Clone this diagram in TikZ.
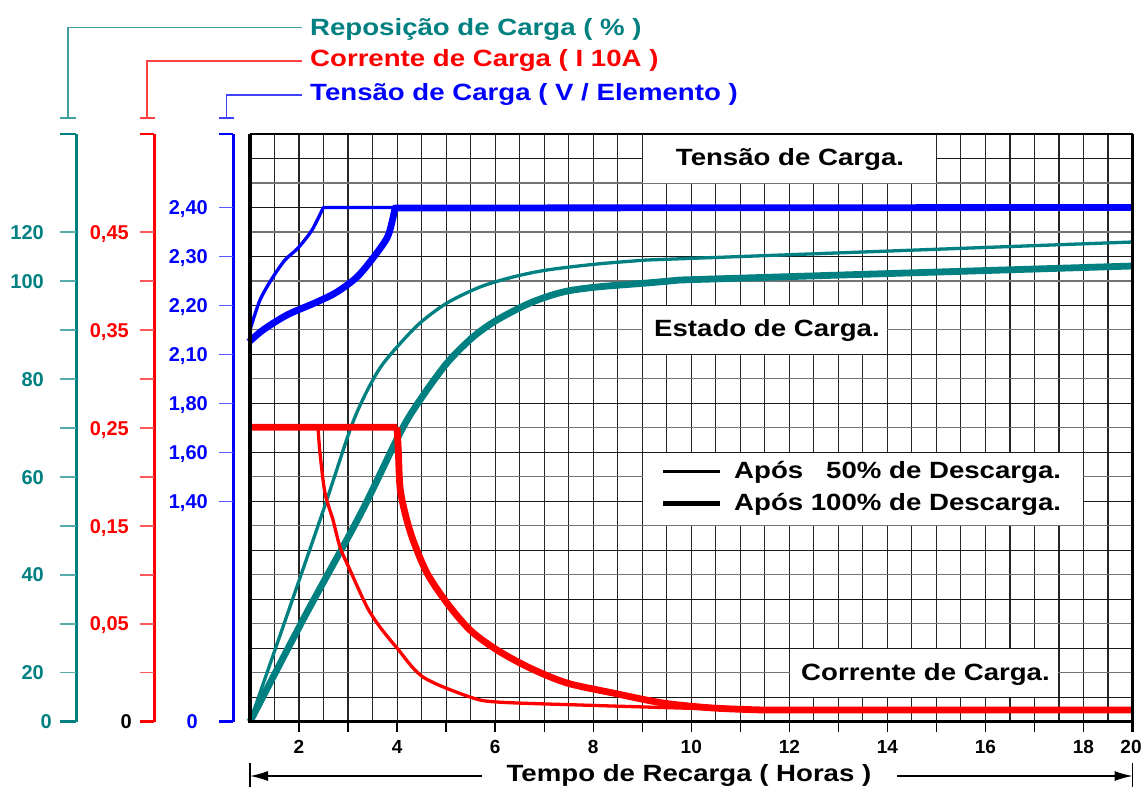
\documentclass[tikz,border=0pt]{standalone}
\usepackage{fontspec}
\setmainfont{Liberation Sans}
\newfontfamily\widefont[FakeStretch=1.175]{Liberation Sans}
\usetikzlibrary{arrows.meta}
\definecolor{tealc}{HTML}{008080}
\definecolor{redc}{HTML}{FF0000}
\definecolor{bluec}{HTML}{0000FF}
\begin{document}
\begin{tikzpicture}[x=1pt,y=-1pt,
  big/.style={font=\widefont\bfseries\fontsize{23.5}{28}\selectfont, inner sep=0pt},
  axl/.style={font=\bfseries\fontsize{20}{24}\selectfont, inner sep=0pt, anchor=base east},
  xl/.style={font=\bfseries\fontsize{19}{23}\selectfont, inner sep=0pt, anchor=base},
  gvert/.style={black!85, line width=1.15pt},
  gdark/.style={black!90, line width=1.15pt},
  glight/.style={black!55, line width=1.15pt},
  wbox/.style={fill=white, draw=none, inner sep=0pt, outer sep=0pt, anchor=north west},
  thinc/.style={line width=3.3pt, line join=round, line cap=round},
  thickc/.style={line width=6.8pt, line join=round},
  conn/.style={line width=1.5pt},
  mtick/.style={line width=1.5pt},
  axisline/.style={line width=3pt},
  arrowline/.style={line width=1.3pt, -{Latex[length=18pt,width=10pt]}},
]
\useasboundingbox (0,0) rectangle (1145,787);

% ---------- grid ----------
\foreach \i in {1,...,35}
  \draw[gvert] ({250+\i*24.514},134) -- ({250+\i*24.514},721.7);
\foreach \j in {1,3,...,23}
  \draw[gdark] (250,{134+\j*24.488}) -- (1132.5,{134+\j*24.488});
\foreach \j in {2,4,...,22}
  \draw[glight] (250,{134+\j*24.488}) -- (1132.5,{134+\j*24.488});

% ---------- white label boxes ----------
\node[wbox, minimum width=293pt, minimum height=48.2pt] (bxT) at (642.8,134.6) {};
\node[wbox, minimum width=244pt, minimum height=47.8pt] (bxE) at (642.8,306.0) {};
\node[wbox, minimum width=439.9pt, minimum height=72.3pt] (bxL) at (642.8,452.9) {};
\node[wbox, minimum width=268.5pt, minimum height=47.8pt] (bxC) at (789.9,648.8) {};

% ---------- curves ----------
% blue (tension)
\draw[bluec, thinc] plot[smooth, tension=0.5] coordinates {(250,330) (260,300) (273,277) (285,260) (298,248) (312,230) (323.3,207.5)} -- (1132.5,207.5);
\draw[bluec, thickc] plot[smooth, tension=0.5] coordinates {(249,342) (263,330) (287,315) (317,302) (337,292) (357,277) (373,258) (387,238) (392,222) (395,208)} -- (1132.5,207.5);
% teal (state of charge)
\draw[tealc, thinc] plot[smooth, tension=0.5] coordinates {(250,721.7) (320,520) (350,430) (365,395) (380,368) (397,347) (420,323) (447,303) (480,287) (513,277) (547,270) (597,264) (647,260)} -- (1132.5,242);
\draw[tealc, thickc] plot[smooth, tension=0.5] coordinates {(250,721.7) (305,616) (360,515) (400,433) (420,400) (447,363) (473,337) (497,320) (530,303) (563,292) (597,287) (647,283) (680,280)} -- (1132.5,266);
% red (current)
\draw[redc, thinc] plot[smooth, tension=0.5] coordinates {(318,427.3) (320,453) (325,493) (333,520) (340,547) (350,570) (367,607) (380,627) (397,648) (423,677) (470,697) (497,702) (580,705) (680,708) (760,710)};
\draw[redc, thickc] (250,427.3) -- (397,427.3) plot[smooth, tension=0.5] coordinates {(397,427.3) (398.3,450) (400,487) (405,513) (413,540) (427,573) (447,603) (470,630) (497,650) (530,668) (567,683) (613,693) (663,703) (713,708) (763,710)} -- (1132.5,710);

% ---------- frame ----------
\draw[black, line width=1.5pt] (250,134) -- (1132.5,134);
\draw[black, line width=3.3pt] (250,134) -- (250,721.7) -- (1132.5,721.7);
\draw[black, line width=3pt] (1132.5,134) -- (1132.5,731.7);
\foreach \k in {1,...,17}
  \draw[black, line width=1.3pt] ({250+\k*49.028},721.7) -- ({250+\k*49.028},731.7);

% ---------- x axis labels ----------
\foreach \k/\t in {1/2,3/4,5/6,7/8,9/10,11/12,13/14,15/16,17/18}
  \node[xl] (xl\k) at ({250+\k*49.028},753.5) {\t};
\node[xl] (xl19) at (1131,753.5) {20};

% ---------- time arrow ----------
\node[big, anchor=base] (tempo) at (689,781.7) {Tempo de Recarga ( Horas )};
\coordinate (aL) at (250,776);
\coordinate (aR) at (1132.5,776);
\coordinate (aLs) at (482,776);
\coordinate (aRs) at (897,776);
\draw[arrowline] (aLs) -- (aL);
\draw[arrowline] (aRs) -- (aR);
\draw[black, line width=1.3pt] (250,763) -- (250,787);
\draw[black, line width=1.3pt] (1132.5,763) -- (1132.5,787);

% ---------- teal axis ----------
\draw[tealc, axisline] (76,134) -- (76,721.7);
\draw[tealc, line width=2pt] (60,134) -- (76,134);
\draw[tealc, axisline] (60,721.7) -- (76,721.7);
\foreach \r in {4,6,...,22}
  \draw[tealc!65, mtick] (60,{134+\r*24.488}) -- (76,{134+\r*24.488});
\foreach \r/\t in {4/120,6/100,10/80,14/60,18/40,22/20}
  \node[axl, tealc] (tl\r) at (44,{134+\r*24.488+7.2}) {\t};
\node[axl, tealc] (tl24) at (52,728.9) {0};

% ---------- red axis ----------
\draw[redc, axisline] (154,134) -- (154,721.7);
\draw[redc, line width=2pt] (140,134) -- (154,134);
\draw[redc, axisline] (140,721.7) -- (154,721.7);
\foreach \r in {4,6,...,22}
  \draw[redc!65, mtick] (140,{134+\r*24.488}) -- (154,{134+\r*24.488});
\foreach \r/\t in {4/{0,45},8/{0,35},12/{0,25},16/{0,15},20/{0,05}}
  \node[axl, redc] (rl\r) at (129,{134+\r*24.488+7.2}) {\t};
\node[axl, black] (rl24) at (132,728.9) {0};

% ---------- blue axis ----------
\draw[bluec, axisline] (233,134) -- (233,721.7);
\draw[bluec, line width=2pt] (219,134) -- (233,134);
\draw[bluec, axisline] (219,721.7) -- (233,721.7);
\foreach \r in {3,5,...,15}
  \draw[bluec!65, mtick] (219,{134+\r*24.488}) -- (233,{134+\r*24.488});
\foreach \r/\t in {3/{2,40},5/{2,30},7/{2,20},9/{2,10},11/{1,80},13/{1,60},15/{1,40}}
  \node[axl, bluec] (bl\r) at (208,{134+\r*24.488+7.2}) {\t};
\node[axl, bluec] (bl24) at (198,728.9) {0};

% ---------- titles and connectors ----------
\node[big, anchor=base west, tealc] (tRep) at (310,35) {Reposição de Carga ( \% )};
\node[big, anchor=base west, redc] (tCor) at (310,66.7) {Corrente de Carga ( I 10A )};
\node[big, anchor=base west, bluec] (tTen) at (310,100) {Tensão de Carga ( V / Elemento )};
\coordinate (cRep) at (302,27.3);
\coordinate (cCor) at (302,61);
\coordinate (cTen) at (302,95);
\draw[tealc!75, conn] (60,118) -- (76,118) (68,118) |- (cRep);
\draw[redc!75, conn] (140,118) -- (155,118) (147,118) |- (cCor);
\draw[bluec!75, conn] (219,118) -- (234,118) (226.5,118) |- (cTen);

% ---------- in-chart labels ----------
\node[big, anchor=base] (lTen) at (790,165) {Tensão de Carga.};
\node[big, anchor=base] (lEst) at (767,336.7) {Estado de Carga.};
\node[big, anchor=base] (lCor) at (925.5,680) {Corrente de Carga.};

% ---------- legend ----------
\coordinate (lg1a) at (663,471.2);
\coordinate (lg1b) at (720,471.2);
\coordinate (lg2a) at (663,503.3);
\coordinate (lg2b) at (720,503.3);
\draw[black, line width=2.7pt] (lg1a) -- (lg1b);
\draw[black, line width=5.5pt] (lg2a) -- (lg2b);
\node[big, anchor=base west] (lgt1) at (734,478.3) {Após \hphantom{1}50\% de Descarga.};
\node[big, anchor=base west] (lgt2) at (734,510) {Após 100\% de Descarga.};
\end{tikzpicture}
\end{document}
